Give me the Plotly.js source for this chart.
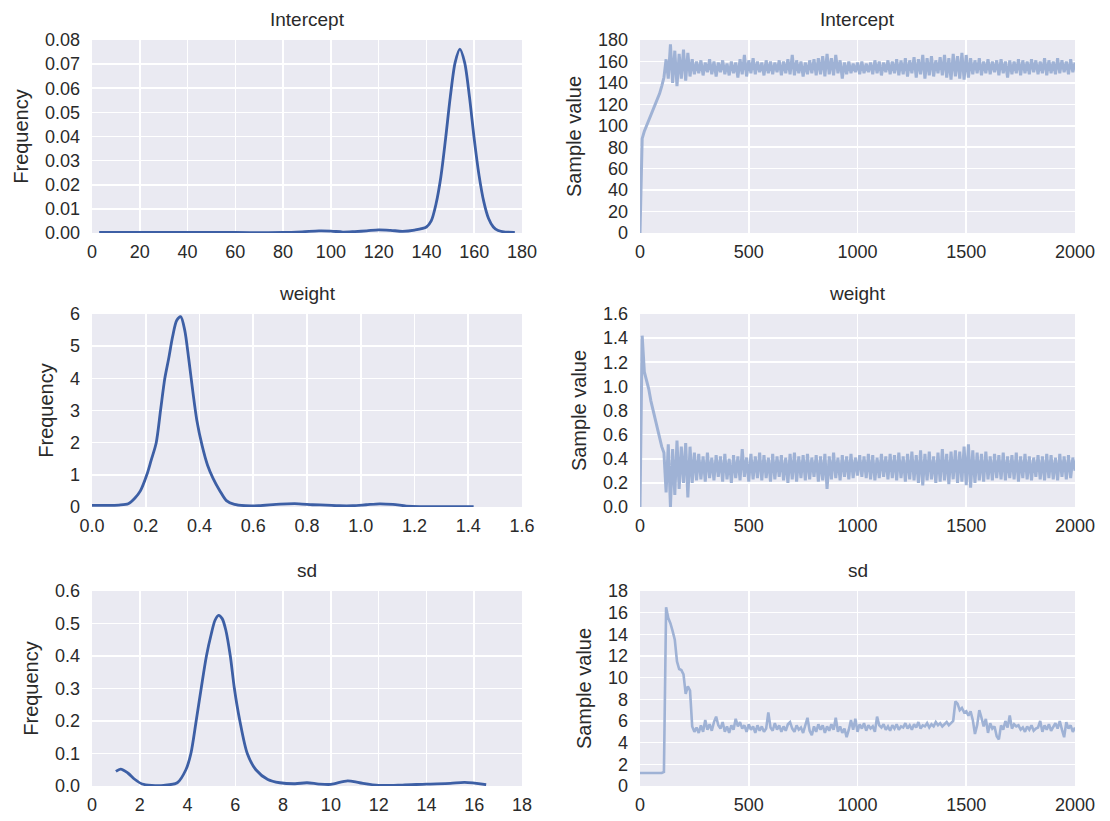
<!DOCTYPE html>
<html>
<head>
<meta charset="utf-8">
<script src="https://cdn.plot.ly/plotly-3.0.1.min.js"></script>
<style>html,body{margin:0;padding:0;background:#fff;}#chart{width:1110px;height:821px;}</style>
</head>
<body>
<div id="chart"></div>
<script>
// ---- Data ----
const paramNames = ["Intercept", "weight", "sd"];

// Posterior density curves (left column)
const interceptKdeX = [3,20,40,60,80,88,95,100,105,110,115,120,125,130,135,140,142,144,146,148,150,152,154,156,158,160,162,164,166,168,170,173,177];
const interceptKdeY = [0.0002,0.0002,0.0002,0.0002,0.0002,0.0005,0.0009,0.0008,0.0004,0.0006,0.0009,0.0013,0.0011,0.0007,0.0012,0.0025,0.005,0.012,0.023,0.039,0.0565,0.0706,0.0762,0.0706,0.0565,0.039,0.024,0.013,0.006,0.0025,0.001,0.0004,0.0003];

const weightKdeX = [0.0,0.05,0.1,0.135,0.16,0.18,0.204,0.22,0.239,0.255,0.271,0.285,0.3,0.315,0.33,0.345,0.36,0.375,0.39,0.41,0.43,0.45,0.476,0.5,0.53,0.57,0.62,0.7,0.77,0.82,0.87,0.92,0.97,1.02,1.07,1.12,1.17,1.22,1.3,1.42];
const weightKdeY = [0.05,0.05,0.06,0.1,0.28,0.5,1.0,1.45,2.0,3.0,4.0,4.6,5.3,5.8,5.92,5.5,4.6,3.6,2.7,1.9,1.3,0.9,0.5,0.2,0.08,0.04,0.04,0.09,0.1,0.07,0.06,0.04,0.04,0.07,0.1,0.08,0.03,0.01,0.01,0.01];

const sdKdeX = [1.0,1.2,1.5,1.8,2.1,2.5,3.0,3.57,3.93,4.14,4.36,4.57,4.79,5.0,5.15,5.3,5.45,5.6,5.79,5.96,6.19,6.5,6.86,7.36,7.86,8.5,9.0,9.5,10.0,10.7,11.2,12.0,13.0,14.0,15.0,15.6,16.5];
const sdKdeY = [0.045,0.052,0.04,0.02,0.006,0.002,0.002,0.01,0.05,0.1,0.2,0.3,0.4,0.47,0.51,0.525,0.515,0.48,0.4,0.3,0.2,0.1,0.05,0.02,0.01,0.007,0.01,0.006,0.005,0.016,0.01,0.002,0.003,0.006,0.008,0.011,0.004];

// MCMC traces (right column), one value every 10 samples
const traceStep = 10;
const interceptTrace = [0,88,95,100,105,110,115,120,124,130,137,145,162,144,176,140,170,137,167,144,171,142,168,146,162,148,
160,149,161,147,159,150,162,148,160,146,
159,150,161,148,158,147,160,149,159,145,
162,148,166,146,161,149,163,148,160,150,
159,147,161,149,160,148,159,150,161,147,
160,149,162,148,166,147,161,149,160,146,
159,148,161,149,162,147,163,148,165,146,
167,148,163,147,166,149,161,144,159,148,
160,149,158,150,159,148,160,149,158,150,
159,148,161,149,160,147,159,150,161,148,
160,149,162,147,161,148,163,146,161,149,
164,145,162,148,166,144,163,147,165,146,
161,149,164,147,166,145,163,143,167,146,
165,144,168,143,166,145,163,148,161,149,
163,147,160,149,162,148,160,150,161,147,
162,149,160,145,161,148,160,149,162,147,
161,149,160,148,162,150,161,148,160,149,
163,147,161,149,160,148,163,149,161,150,
160,148,162,150,159];

const weightTrace = [0,1.42,1.12,1.05,0.98,0.88,0.8,0.72,0.65,0.58,0.5,0.45,0.12,0.52,0.0,0.48,0.1,0.55,0.15,0.5,0.2,0.53,0.08,0.5,0.2,0.45,0.22,
0.44,0.23,0.42,0.21,0.45,0.24,0.41,0.22,0.43,0.25,
0.42,0.21,0.44,0.23,0.40,0.20,0.43,0.24,0.42,0.22,
0.48,0.25,0.41,0.21,0.44,0.23,0.42,0.24,0.45,0.22,
0.43,0.24,0.41,0.21,0.44,0.23,0.42,0.25,0.43,0.22,
0.41,0.20,0.44,0.23,0.45,0.21,0.42,0.24,0.43,0.22,
0.44,0.23,0.41,0.25,0.43,0.21,0.42,0.22,0.44,0.15,
0.42,0.23,0.45,0.24,0.41,0.22,0.43,0.25,0.42,0.23,
0.44,0.24,0.41,0.26,0.43,0.25,0.42,0.24,0.44,0.23,
0.43,0.22,0.41,0.24,0.44,0.25,0.42,0.23,0.44,0.24,
0.43,0.22,0.45,0.24,0.42,0.21,0.44,0.23,0.46,0.22,
0.43,0.20,0.47,0.18,0.44,0.22,0.46,0.23,0.42,0.20,
0.45,0.21,0.48,0.22,0.44,0.19,0.46,0.23,0.47,0.20,
0.46,0.21,0.50,0.18,0.52,0.16,0.47,0.20,0.45,0.22,
0.44,0.21,0.46,0.23,0.42,0.22,0.44,0.24,0.43,0.23,
0.45,0.22,0.42,0.24,0.43,0.23,0.45,0.21,0.42,0.24,
0.44,0.23,0.42,0.22,0.41,0.25,0.43,0.23,0.42,0.22,
0.44,0.24,0.43,0.23,0.41,0.22,0.44,0.25,0.42,0.23,
0.43,0.24,0.41,0.30];

const sdTrace = [1.2,1.2,1.2,1.2,1.2,1.2,1.2,1.2,1.2,1.2,1.2,1.3,16.5,15.5,15,14.3,13.5,11.5,10.8,10.7,10.3,8.5,9.2,8.8,5.5,5.0,
5.4,4.9,5.6,5.0,6.1,5.2,5.7,5.1,5.9,6.4,
5.6,5.3,5.9,5.0,5.5,4.9,5.6,5.2,6.2,5.5,
5.9,5.3,5.6,5.0,5.7,5.2,5.5,4.9,5.6,5.1,
5.5,5.0,5.3,6.8,5.4,5.1,5.8,5.2,5.6,5.0,
5.5,5.1,5.7,5.9,5.3,5.0,5.6,5.2,5.4,4.9,
5.6,6.3,5.1,4.7,5.5,5.0,5.7,5.2,5.6,4.9,
5.5,5.1,5.7,5.2,6.3,5.0,5.5,4.9,5.3,4.5,
5.2,6.1,5.2,6.2,5.0,5.7,5.3,5.8,5.1,5.6,
5.3,5.5,5.0,6.4,5.6,5.4,5.7,5.2,5.5,5.1,
5.6,5.3,5.7,5.2,5.5,5.4,5.8,5.3,5.6,5.2,
5.7,5.4,5.9,5.3,5.6,5.5,5.8,5.4,5.7,5.5,
5.9,5.6,5.8,5.5,5.7,5.9,5.6,5.8,6.0,7.8,
7.6,7.0,7.2,6.8,6.9,6.5,6.9,6.1,4.8,5.6,
7.0,6.3,5.5,6.2,4.9,5.8,5.3,5.5,4.6,4.3,
5.6,5.2,6.0,5.4,6.5,5.3,5.7,5.5,5.6,5.2,
5.4,5.0,5.5,5.2,5.6,5.1,5.3,5.4,6.0,5.0,
5.6,5.2,5.7,5.1,5.5,5.8,5.3,6.0,5.2,4.5,
5.9,5.3,5.6,5.0,5.4];

// Axis ticks
const interceptKdeTicks = {range:[0,180], dtick:20};
const weightKdeTicks = {range:[0,1.6], dtick:0.2};
const sdKdeTicks = {range:[0,18], dtick:2};
const iterTicks = {range:[0,2000], dtick:500};

// ---- Build figure ----
const sampleIndex = arr => arr.map((_, i) => i * traceStep);
const kdeColor = "#3D5FA5";
const traceColor = "#9FB2D5";

const data = [
  {x: interceptKdeX, y: interceptKdeY, xaxis:"x", yaxis:"y", type:"scatter", mode:"lines",
   line:{color:kdeColor, width:2.8, shape:"spline", smoothing:0.8}},
  {x: sampleIndex(interceptTrace), y: interceptTrace, xaxis:"x2", yaxis:"y2", type:"scatter", mode:"lines",
   line:{color:traceColor, width:3}},
  {x: weightKdeX, y: weightKdeY, xaxis:"x3", yaxis:"y3", type:"scatter", mode:"lines",
   line:{color:kdeColor, width:2.8, shape:"spline", smoothing:0.8}},
  {x: sampleIndex(weightTrace), y: weightTrace, xaxis:"x4", yaxis:"y4", type:"scatter", mode:"lines",
   line:{color:traceColor, width:3}},
  {x: sdKdeX, y: sdKdeY, xaxis:"x5", yaxis:"y5", type:"scatter", mode:"lines",
   line:{color:kdeColor, width:2.8, shape:"spline", smoothing:0.8}},
  {x: sampleIndex(sdTrace), y: sdTrace, xaxis:"x6", yaxis:"y6", type:"scatter", mode:"lines",
   line:{color:traceColor, width:2.6}}
];

const W = 1110, H = 821;
const colL = [92/W, 522/W];
const colR = [640/W, 1075/W];
const rows = [[1-233/H, 1-40/H], [1-507/H, 1-314/H], [1-786/H, 1-591/H]];

const FAM = "Liberation Sans, Arial, sans-serif";
const tickFont = {family:FAM, size:18, color:"#2A2A2A"};
const axTitleFont = {family:FAM, size:20, color:"#2A2A2A"};
const titleFont = {family:FAM, size:19, color:"#2A2A2A"};

function ax(extra) {
  return Object.assign({
    showgrid:true, gridcolor:"#FFFFFF", gridwidth:1.6,
    zeroline:false, showline:false, ticks:"", tickfont:tickFont,
    fixedrange:true, tick0:0, autorange:false, ticklabelstandoff:6
  }, extra);
}
function yax(extra) { return ax(Object.assign({ticklabelstandoff:11}, extra)); }
function yTitle(t) { return {text:t, font:axTitleFont, standoff:10}; }

const layout = {
  width:W, height:H,
  margin:{l:0, r:0, t:0, b:0},
  paper_bgcolor:"#FFFFFF", plot_bgcolor:"#EAEAF2",
  showlegend:false,
  font:tickFont,
  xaxis: ax({domain:colL, anchor:"y", range:interceptKdeTicks.range, dtick:interceptKdeTicks.dtick}),
  yaxis: yax({domain:rows[0], anchor:"x", range:[0,0.08], dtick:0.01, tickformat:".2f", title:yTitle("Frequency")}),
  xaxis2: ax({domain:colR, anchor:"y2", range:iterTicks.range, dtick:iterTicks.dtick}),
  yaxis2: yax({domain:rows[0], anchor:"x2", range:[0,180], dtick:20, title:yTitle("Sample value")}),
  xaxis3: ax({domain:colL, anchor:"y3", range:weightKdeTicks.range, dtick:weightKdeTicks.dtick, tickformat:".1f"}),
  yaxis3: yax({domain:rows[1], anchor:"x3", range:[0,6], dtick:1, title:yTitle("Frequency")}),
  xaxis4: ax({domain:colR, anchor:"y4", range:iterTicks.range, dtick:iterTicks.dtick}),
  yaxis4: yax({domain:rows[1], anchor:"x4", range:[0,1.6], dtick:0.2, tickformat:".1f", title:yTitle("Sample value")}),
  xaxis5: ax({domain:colL, anchor:"y5", range:sdKdeTicks.range, dtick:sdKdeTicks.dtick}),
  yaxis5: yax({domain:rows[2], anchor:"x5", range:[0,0.6], dtick:0.1, tickformat:".1f", title:yTitle("Frequency")}),
  xaxis6: ax({domain:colR, anchor:"y6", range:iterTicks.range, dtick:iterTicks.dtick}),
  yaxis6: yax({domain:rows[2], anchor:"x6", range:[0,18], dtick:2, title:yTitle("Sample value")}),
  annotations: []
};

const cols = [colL, colR];
for (let r = 0; r < 3; r++) {
  for (let c = 0; c < 2; c++) {
    layout.annotations.push({
      text: paramNames[r], xref:"paper", yref:"paper",
      x:(cols[c][0]+cols[c][1])/2, y:rows[r][1] + 8/H,
      xanchor:"center", yanchor:"bottom", showarrow:false, font:titleFont
    });
  }
}

Plotly.newPlot("chart", data, layout, {displayModeBar:false, staticPlot:true});
</script>
</body>
</html>
